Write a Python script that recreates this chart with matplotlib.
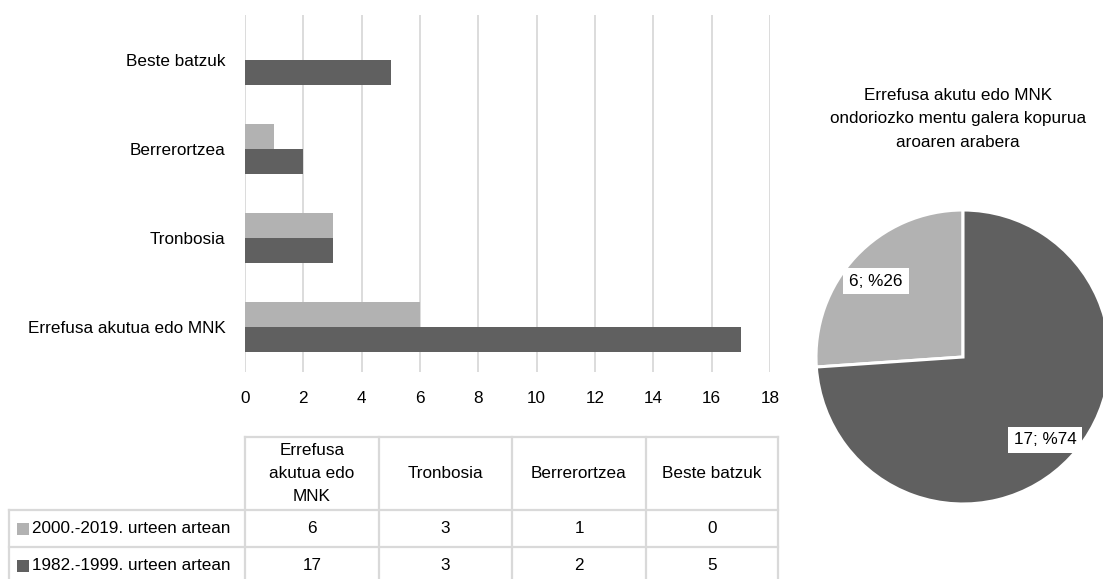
import matplotlib
matplotlib.use("Agg")
import matplotlib.pyplot as plt
from matplotlib.lines import Line2D
from matplotlib.patches import Rectangle

plt.rcParams['font.family'] = ['Liberation Sans', 'DejaVu Sans']

# Data
categories = ["Errefusa akutua edo MNK", "Tronbosia", "Berrerortzea", "Beste batzuk"]
header_labels = ["Errefusa\nakutua edo\nMNK", "Tronbosia", "Berrerortzea", "Beste batzuk"]
series_names = ["2000.-2019. urteen artean", "1982.-1999. urteen artean"]
recent = [6, 3, 1, 0]      # 2000-2019
earlier = [17, 3, 2, 5]    # 1982-1999
pie_values = [6, 17]
pie_labels = ["6; %26", "17; %74"]
pie_title = "Errefusa akutu edo MNK\nondoriozko mentu galera kopurua\naroaren arabera"
x_ticks = list(range(0, 20, 2))

LIGHT = "#b2b2b2"
DARK = "#606060"
GRID = "#d9d9d9"
FS = 12.3

W, H = 1103, 579
fig = plt.figure(figsize=(W / 100, H / 100), dpi=100)


def fx(x):
    return x / W


def fy(y):
    return 1 - y / H


# --- Horizontal bar chart ---
ax = fig.add_axes([fx(245), fy(372), fx(770) - fx(245), fy(15) - fy(372)])
ypos = list(range(len(categories)))
bh = 0.28
ax.barh([y + bh / 2 for y in ypos], recent, height=bh, color=LIGHT, zorder=3)
ax.barh([y - bh / 2 for y in ypos], earlier, height=bh, color=DARK, zorder=3)
ax.set_xlim(0, 18)
ax.set_ylim(-0.5, 3.5)
ax.set_xticks(x_ticks)
ax.set_xticklabels([str(t) for t in x_ticks], fontsize=FS)
ax.set_yticks(ypos)
ax.set_yticklabels(categories, fontsize=FS)
ax.tick_params(axis='x', length=0, pad=14)
ax.tick_params(axis='y', length=0, pad=14)
ax.grid(axis='x', color=GRID, linewidth=1.3, zorder=0)
for s in ax.spines.values():
    s.set_visible(False)

# --- Data table below the bar chart ---
col_edges = [245, 379, 512, 646, 778]
row_edges = [437, 510, 547, 585]
left_edge = 9
lw = 1.6


def hline(y, x0, x1):
    fig.add_artist(Line2D([fx(x0), fx(x1)], [fy(y), fy(y)], color=GRID, lw=lw))


def vline(x, y0, y1):
    fig.add_artist(Line2D([fx(x), fx(x)], [fy(y0), fy(y1)], color=GRID, lw=lw))


hline(row_edges[0], col_edges[0], col_edges[-1])
for y in row_edges[1:]:
    hline(y, left_edge, col_edges[-1])
for x in col_edges:
    vline(x, row_edges[0], row_edges[-1])
vline(left_edge, row_edges[1], row_edges[-1])

for i, lab in enumerate(header_labels):
    cx = (col_edges[i] + col_edges[i + 1]) / 2
    cy = (row_edges[0] + row_edges[1]) / 2
    fig.text(fx(cx), fy(cy), lab, ha='center', va='center', fontsize=FS,
             linespacing=1.65)

for r, (name, vals, col) in enumerate(zip(series_names, [recent, earlier], [LIGHT, DARK])):
    cy = (row_edges[r + 1] + row_edges[r + 2]) / 2
    fig.add_artist(Rectangle((fx(17), fy(cy + 6)), fx(12), fy(0) - fy(12),
                             facecolor=col, edgecolor='none'))
    fig.text(fx(32), fy(cy), name, ha='left', va='center', fontsize=FS)
    for i, v in enumerate(vals):
        cx = (col_edges[i] + col_edges[i + 1]) / 2
        fig.text(fx(cx), fy(cy), str(v), ha='center', va='center', fontsize=FS)

# --- Pie chart ---
cxp, cyp, rp = 963, 357, 147
pax = fig.add_axes([fx(cxp - rp), fy(cyp + rp), fx(2 * rp), fy(0) - fy(2 * rp)])
wedges, _ = pax.pie(pie_values, colors=[LIGHT, DARK], startangle=90,
                    counterclock=True, radius=1,
                    wedgeprops=dict(edgecolor='white', linewidth=2.2))
for w in wedges:
    w.set_clip_on(False)
pax.set_xlim(-1, 1)
pax.set_ylim(-1, 1)
pax.set_aspect('equal')
pax.axis('off')

box = dict(boxstyle='square,pad=0.35', facecolor='white', edgecolor='none')
fig.text(fx(876), fy(281), pie_labels[0], ha='center', va='center', fontsize=FS, bbox=box)
fig.text(fx(1045), fy(440), pie_labels[1], ha='center', va='center', fontsize=FS, bbox=box)

fig.text(fx(958), fy(119), pie_title, ha='center', va='center', fontsize=FS,
         linespacing=1.7)

fig.savefig("out.png", dpi=100)
